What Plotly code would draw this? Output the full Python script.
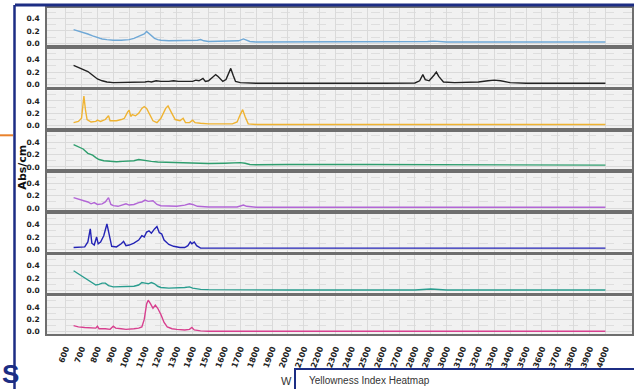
import plotly.graph_objects as go

W, H = 634, 389

# --- spectra (wavenumber in cm-1, absorbance per cm) ---
wn_1 = [650, 680, 710, 740, 770, 800, 830, 860, 900, 950, 1000, 1030, 1060, 1080, 1095, 1110, 1125, 1140,
        1160, 1180, 1200, 1250, 1300, 1350, 1400, 1430, 1450, 1470, 1500, 1600, 1690, 1720, 1740, 1760,
        1800, 2000, 2800, 2880, 2920, 2960, 3000, 3400, 4000]
abs_1 = [0.22, 0.20, 0.17, 0.15, 0.12, 0.09, 0.07, 0.06, 0.05, 0.05, 0.06, 0.08, 0.11, 0.14, 0.15, 0.19, 0.16, 0.12,
         0.08, 0.06, 0.05, 0.04, 0.04, 0.04, 0.04, 0.05, 0.06, 0.04, 0.03, 0.03, 0.04, 0.07, 0.05, 0.03,
         0.02, 0.02, 0.02, 0.03, 0.035, 0.025, 0.02, 0.02, 0.02]

wn_2 = [650, 680, 710, 740, 770, 800, 830, 860, 900, 1000, 1050, 1100, 1120, 1140, 1170, 1200, 1250, 1280, 1310,
        1340, 1370, 1400, 1420, 1440, 1465, 1480, 1500, 1530, 1545, 1560, 1590, 1610, 1630, 1640, 1655, 1670,
        1700, 1750, 1800, 2600, 2800, 2830, 2850, 2865, 2890, 2920, 2935, 2950, 2980, 3050, 3150, 3200, 3260,
        3300, 3340, 3400, 3500, 4000]
abs_2 = [0.31, 0.28, 0.25, 0.21, 0.15, 0.09, 0.06, 0.04, 0.03, 0.03, 0.035, 0.04, 0.05, 0.04, 0.06, 0.05, 0.05, 0.06, 0.05,
         0.05, 0.06, 0.05, 0.07, 0.06, 0.10, 0.05, 0.06, 0.12, 0.16, 0.13, 0.05, 0.08, 0.20, 0.26, 0.15, 0.05,
         0.03, 0.025, 0.02, 0.02, 0.025, 0.06, 0.16, 0.08, 0.06, 0.15, 0.20, 0.13, 0.04, 0.03, 0.03, 0.04, 0.06,
         0.07, 0.06, 0.03, 0.02, 0.02]

wn_3 = [650, 680, 700, 715, 725, 735, 760, 790, 800, 820, 850, 870, 880, 920, 950, 970, 990, 1000, 1010, 1020,
        1040, 1060, 1080, 1095, 1110, 1125, 1150, 1175, 1200, 1230, 1245, 1265, 1290, 1320, 1340, 1355, 1380,
        1400, 1415, 1450, 1500, 1650, 1680, 1700, 1715, 1730, 1750, 1800, 4000]
abs_3 = [0.05, 0.07, 0.12, 0.48, 0.25, 0.10, 0.06, 0.07, 0.09, 0.07, 0.10, 0.16, 0.08, 0.08, 0.10, 0.12, 0.22, 0.25, 0.15, 0.18,
         0.16, 0.20, 0.28, 0.31, 0.28, 0.20, 0.08, 0.05, 0.12, 0.28, 0.32, 0.22, 0.10, 0.08, 0.12, 0.05, 0.05,
         0.09, 0.05, 0.04, 0.03, 0.03, 0.06, 0.18, 0.26, 0.15, 0.03, 0.02, 0.02]

wn_4 = [650, 680, 710, 740, 770, 790, 810, 840, 880, 920, 960, 1000, 1030, 1060, 1080, 1110, 1140, 1180, 1250,
        1300, 1400, 1500, 1600, 1650, 1700, 1730, 1760, 1800, 2000, 2500, 3000, 3500, 4000]
abs_4 = [0.36, 0.32, 0.29, 0.22, 0.19, 0.15, 0.12, 0.10, 0.09, 0.085, 0.09, 0.09, 0.10, 0.12, 0.11, 0.10, 0.09, 0.08, 0.075,
         0.07, 0.06, 0.055, 0.06, 0.065, 0.07, 0.06, 0.04, 0.035, 0.04, 0.04, 0.04, 0.035, 0.03]

wn_5 = [650, 680, 710, 740, 760, 780, 800, 830, 850, 870, 885, 900, 930, 960, 980, 1000, 1030, 1060, 1080, 1100,
        1120, 1150, 1175, 1200, 1250, 1300, 1350, 1380, 1400, 1430, 1500, 1680, 1720, 1740, 1800, 4000]
abs_5 = [0.17, 0.15, 0.12, 0.10, 0.07, 0.09, 0.06, 0.07, 0.10, 0.17, 0.06, 0.04, 0.03, 0.05, 0.07, 0.05, 0.06, 0.09, 0.10, 0.13,
         0.11, 0.12, 0.06, 0.04, 0.03, 0.03, 0.05, 0.07, 0.06, 0.03, 0.02, 0.02, 0.05, 0.03, 0.015, 0.015]

wn_6 = [650, 700, 720, 740, 755, 765, 780, 795, 805, 820, 840, 860, 875, 890, 920, 950, 965, 980, 1000, 1030,
        1060, 1080, 1095, 1110, 1125, 1140, 1160, 1175, 1190, 1205, 1220, 1250, 1280, 1320, 1350, 1370, 1385,
        1395, 1410, 1425, 1450, 1500, 4000]
abs_6 = [0.03, 0.03, 0.04, 0.12, 0.33, 0.10, 0.07, 0.20, 0.09, 0.12, 0.22, 0.41, 0.20, 0.05, 0.04, 0.09, 0.13, 0.06, 0.07, 0.10,
         0.15, 0.22, 0.20, 0.28, 0.30, 0.26, 0.33, 0.37, 0.27, 0.25, 0.15, 0.08, 0.05, 0.03, 0.03, 0.06, 0.12,
         0.09, 0.12, 0.06, 0.02, 0.02, 0.02]

wn_7 = [650, 680, 710, 740, 770, 790, 810, 830, 850, 870, 900, 950, 1000, 1030, 1060, 1080, 1100, 1120, 1140, 1160,
        1180, 1200, 1250, 1300, 1350, 1380, 1400, 1450, 1500, 2000, 2800, 2900, 2950, 3000, 3500, 4000]
abs_7 = [0.32, 0.27, 0.22, 0.17, 0.12, 0.09, 0.10, 0.12, 0.12, 0.08, 0.06, 0.06, 0.06, 0.07, 0.09, 0.13, 0.12, 0.11, 0.13, 0.11,
         0.07, 0.05, 0.04, 0.04, 0.05, 0.06, 0.04, 0.02, 0.015, 0.01, 0.01, 0.025, 0.02, 0.01, 0.01, 0.01]

wn_8 = [650, 680, 720, 760, 790, 800, 810, 850, 880, 900, 915, 950, 980, 1030, 1060, 1080, 1095, 1110, 1120, 1135,
        1150, 1165, 1180, 1200, 1220, 1240, 1270, 1300, 1350, 1380, 1395, 1410, 1450, 1500, 4000]
abs_8 = [0.10, 0.08, 0.07, 0.06, 0.06, 0.09, 0.05, 0.05, 0.04, 0.09, 0.06, 0.05, 0.04, 0.05, 0.06, 0.08, 0.20, 0.45, 0.51, 0.45,
         0.38, 0.43, 0.38, 0.28, 0.15, 0.08, 0.05, 0.04, 0.03, 0.04, 0.07, 0.03, 0.015, 0.01, 0.01]

spectra = [(wn_1, abs_1), (wn_2, abs_2), (wn_3, abs_3), (wn_4, abs_4),
           (wn_5, abs_5), (wn_6, abs_6), (wn_7, abs_7), (wn_8, abs_8)]
colors = ["#6fa8d6", "#222222", "#efb332", "#2f9e6e", "#b266d6", "#2323b5", "#2a9d8f", "#d8408f"]

x_ticks = list(range(600, 4001, 100))
y_ticks = [0.0, 0.2, 0.4]
y_tick_text = ["0.0", "0.2", "0.4"]

NAVY = "#1c2d84"

fig = go.Figure()

n = len(spectra)
x_dom = [47 / W, 632 / W]
grid_major = "#dadada"
grid_minor = "#dedede"
frame = "#6e6e6e"
y_tick_font = dict(family="DejaVu Sans", size=7.5, color="#222222", weight="bold")
x_tick_font = dict(family="DejaVu Sans", size=8, color="#222222", weight="bold")

for k, ((wn, ab), col) in enumerate(zip(spectra, colors)):
    top = 8 + k * 41.43
    bot = top + 37.7
    sfx = "" if k == 0 else str(k + 1)
    fig.add_trace(go.Scatter(x=wn, y=ab, mode="lines", line=dict(color=col, width=1.4),
                             xaxis="x" + sfx, yaxis="y" + sfx, showlegend=False, hoverinfo="skip"))
    last = k == n - 1
    fig.update_layout(**{
        "xaxis" + sfx: dict(
            domain=x_dom, anchor="y" + sfx, range=[482.5, 4167.5],
            tickmode="array", tickvals=x_ticks, ticktext=[str(v) for v in x_ticks],
            showticklabels=last, tickangle=-70, tickfont=x_tick_font,
            ticks="", ticklabelstandoff=5,
            showgrid=True, gridcolor=grid_major, gridwidth=1,
            showline=True, mirror=True, linecolor=frame, linewidth=1.5, zeroline=False,
            matches=None if k == 0 else "x",
        ),
        "yaxis" + sfx: dict(
            domain=[1 - bot / H, 1 - top / H], anchor="x" + sfx, range=[-0.035, 0.57],
            tickmode="array", tickvals=y_ticks, ticktext=y_tick_text, tickfont=y_tick_font,
            ticks="", ticklabelstandoff=4,
            showgrid=True, gridcolor=grid_major, gridwidth=1,
            minor=dict(dtick=0.1, tick0=0, showgrid=True, gridcolor=grid_minor, griddash="dash", gridwidth=1),
            showline=True, mirror=True, linecolor=frame, linewidth=1.5, zeroline=False,
        ),
    })


def px(x):
    return x / W


def py(y):
    return 1 - y / H


shapes = [
    # card frame
    dict(type="line", xref="paper", yref="paper", x0=px(15), x1=1.01, y0=py(5), y1=py(5),
         line=dict(color=NAVY, width=3)),
    dict(type="line", xref="paper", yref="paper", x0=px(14.5), x1=px(14.5), y0=py(5), y1=-0.02,
         line=dict(color=NAVY, width=2.5)),
    # accent stroke on the left edge
    dict(type="line", xref="paper", yref="paper", x0=-0.01, x1=px(13), y0=py(136), y1=py(136),
         line=dict(color="#e9822c", width=2)),
    # next panel header
    dict(type="rect", xref="paper", yref="paper", x0=px(295), x1=1.02, y0=py(371), y1=-0.05,
         fillcolor="white", line=dict(color=NAVY, width=2), layer="above"),
]

annotations = [
    dict(text="<b>Abs/cm</b>", xref="paper", yref="paper", x=px(22.5), y=py(168), xanchor="center",
         yanchor="middle", showarrow=False, textangle=-90,
         font=dict(family="DejaVu Sans", size=11, color="#111111")),
    dict(text="W", xref="paper", yref="paper", x=px(294), y=py(383), xanchor="right", yanchor="middle",
         showarrow=False, font=dict(family="Liberation Sans", size=11, color="#333333")),
    dict(text="Yellowness Index Heatmap", xref="paper", yref="paper", x=px(307), y=py(382),
         xanchor="left", yanchor="middle", showarrow=False,
         font=dict(family="Liberation Sans", size=10, color="#333333")),
    dict(text="<b>S</b>", xref="paper", yref="paper", x=px(10), y=py(392.5), xanchor="center", yanchor="bottom",
         showarrow=False, borderpad=0, font=dict(family="Liberation Sans", size=26, color=NAVY)),
]

fig.update_layout(
    width=W, height=H, margin=dict(l=0, r=0, t=0, b=0),
    paper_bgcolor="white", plot_bgcolor="#f1f1f1",
    shapes=shapes, annotations=annotations,
)

fig.write_html("out.html")
